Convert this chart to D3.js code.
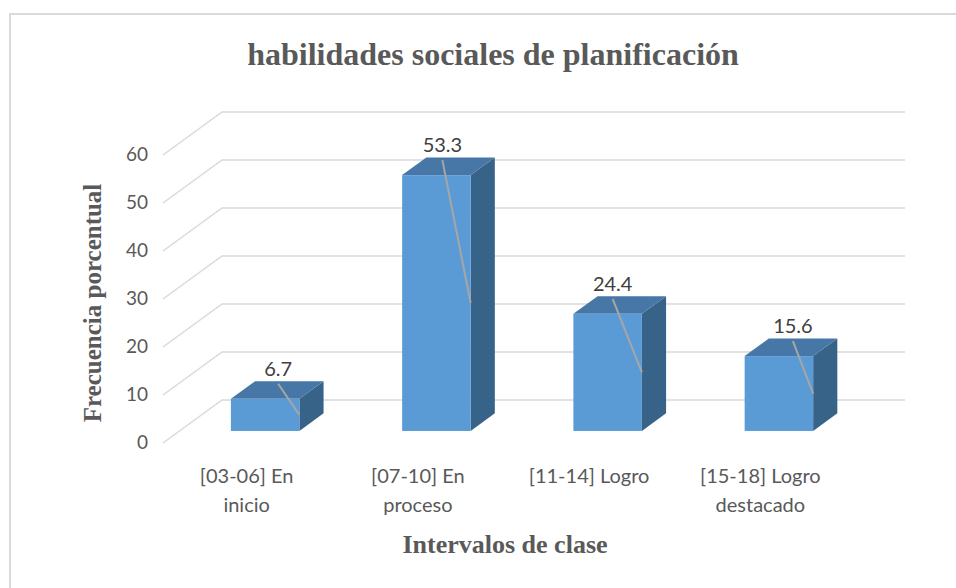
<!DOCTYPE html>
<html>
<head>
<meta charset="utf-8">
<script src="https://cdn.jsdelivr.net/npm/d3@7"></script>
<style>
  body { margin: 0; background: #fff; }
</style>
</head>
<body>
<div id="chart"></div>
<script>
// chart data
const categories = ["[03-06] En inicio", "[07-10] En proceso", "[11-14] Logro", "[15-18] Logro destacado"];
const catLines = [["[03-06] En", "inicio"], ["[07-10] En", "proceso"], ["[11-14] Logro"], ["[15-18] Logro", "destacado"]];
const values = [6.7, 53.3, 24.4, 15.6];
const yTicks = [0, 10, 20, 30, 40, 50, 60];

const width = 956, height = 588;
const plot = {left: 163, right: 848, bottom: 443, top: 155};
const depth = {dx: 59, dy: -43};          // floor/back wall offset
const barFront = 0.28, barBack = 0.69;    // bar position in depth

const svg = d3.select("#chart").append("svg")
  .attr("width", width).attr("height", height);

// outer border
svg.append("rect")
  .attr("x", 10).attr("y", 14)
  .attr("width", 960).attr("height", 600)
  .attr("fill", "#fff").attr("stroke", "#d9d9d9").attr("stroke-width", 2);

const y = d3.scaleLinear().domain([0, 60]).range([plot.bottom, plot.top]);
const x = d3.scaleBand().domain(categories)
  .range([plot.left, plot.right])
  .paddingInner(0.6).paddingOuter(0.3);

// gridlines: slanted side wall + back wall
const grid = svg.append("g").attr("stroke", "#d9d9d9").attr("stroke-width", 1.5).attr("fill", "none");
yTicks.forEach(v => {
  grid.append("path")
    .attr("d", `M${plot.left},${y(v)} L${plot.left + depth.dx},${y(v) + depth.dy} L${plot.right + depth.dx - 2},${y(v) + depth.dy}`);
});

// y tick labels
svg.append("g").selectAll("text")
  .data(yTicks).enter().append("text")
  .attr("x", 148)
  .attr("y", d => y(d) - 1)
  .attr("dy", "0.35em")
  .attr("text-anchor", "end")
  .attr("font-family", "Lato, 'Open Sans', sans-serif")
  .attr("font-size", 19)
  .attr("fill", "#595959")
  .text(d => d);

// 3D bars
const fx = depth.dx * barFront, fy = depth.dy * barFront;
const bx = depth.dx * (barBack - barFront), by = depth.dy * (barBack - barFront);
const bars = svg.append("g").selectAll("g.bar")
  .data(values).enter().append("g").attr("class", "bar");

bars.append("path") // side face
  .attr("fill", "#386389")
  .attr("d", (d, i) => {
    const x1 = x(categories[i]) + fx + x.bandwidth(), y0 = y(0) + fy, y1 = y(d) + fy;
    return `M${x1},${y0} L${x1 + bx},${y0 + by} L${x1 + bx},${y1 + by} L${x1},${y1} Z`;
  });
bars.append("path") // top face
  .attr("fill", "#4677a6")
  .attr("d", (d, i) => {
    const x0 = x(categories[i]) + fx, x1 = x0 + x.bandwidth(), y1 = y(d) + fy;
    return `M${x0},${y1} L${x0 + bx},${y1 + by} L${x1 + bx},${y1 + by} L${x1},${y1} Z`;
  });
bars.append("rect") // front face
  .attr("fill", "#5b9bd5")
  .attr("x", (d, i) => x(categories[i]) + fx)
  .attr("y", d => y(d) + fy)
  .attr("width", x.bandwidth())
  .attr("height", d => y(0) - y(d));

// data labels with leader lines
const labelShift = [13, 6, 5, 14];
const labelPos = (d, i) => ({
  lx: x(categories[i]) + fx + x.bandwidth() / 2 + labelShift[i],
  ly: y(d) + fy - 30
});
bars.append("line")
  .attr("stroke", "#a6a6a6").attr("stroke-width", 2)
  .attr("x1", (d, i) => labelPos(d, i).lx)
  .attr("y1", (d, i) => labelPos(d, i).ly + 15)
  .attr("x2", (d, i) => x(categories[i]) + fx + x.bandwidth())
  .attr("y2", d => (y(d) + y(0)) / 2 + fy);
bars.append("text")
  .attr("x", (d, i) => labelPos(d, i).lx)
  .attr("y", (d, i) => labelPos(d, i).ly)
  .attr("dy", "0.35em")
  .attr("text-anchor", "middle")
  .attr("font-family", "Lato, 'Open Sans', sans-serif")
  .attr("font-size", 20)
  .attr("fill", "#404040")
  .text(d => d.toFixed(1));

// category labels
const catG = svg.append("g").selectAll("text")
  .data(categories).enter().append("text")
  .attr("text-anchor", "middle")
  .attr("font-family", "Lato, 'Open Sans', sans-serif")
  .attr("font-size", 20)
  .attr("fill", "#595959");
catG.each(function(c, i) {
  const t = d3.select(this);
  catLines[i].forEach((line, k) => {
    t.append("tspan")
      .attr("x", x(c) + x.bandwidth() / 2 - 2)
      .attr("y", 483 + k * 29)
      .text(line);
  });
});

// titles
svg.append("text")
  .attr("x", 493).attr("y", 65)
  .attr("text-anchor", "middle")
  .attr("font-family", "'Liberation Serif', 'Times New Roman', serif")
  .attr("font-weight", "bold").attr("font-size", 32)
  .attr("fill", "#595959")
  .text("habilidades sociales de planificación");

svg.append("text")
  .attr("transform", "translate(101,303) rotate(-90)")
  .attr("text-anchor", "middle")
  .attr("font-family", "'Liberation Serif', 'Times New Roman', serif")
  .attr("font-weight", "bold").attr("font-size", 25)
  .attr("fill", "#595959")
  .text("Frecuencia porcentual");

svg.append("text")
  .attr("x", 505).attr("y", 553)
  .attr("text-anchor", "middle")
  .attr("font-family", "'Liberation Serif', 'Times New Roman', serif")
  .attr("font-weight", "bold").attr("font-size", 26)
  .attr("fill", "#595959")
  .text("Intervalos de clase");
</script>
</body>
</html>
